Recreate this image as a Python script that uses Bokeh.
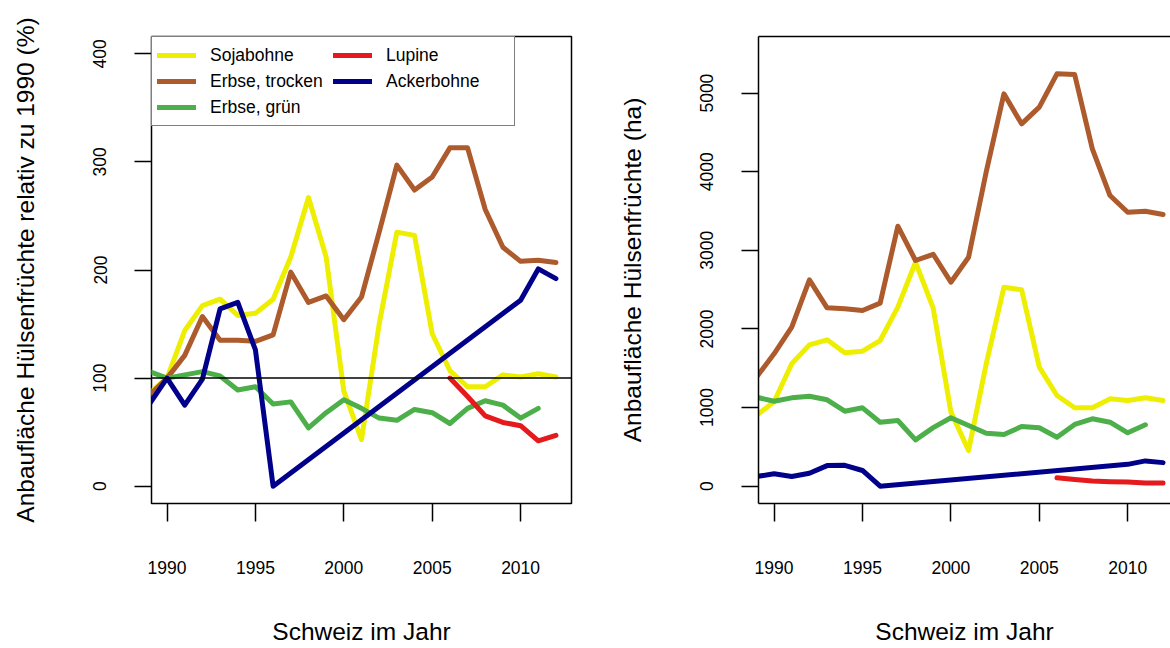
from bokeh.plotting import figure
from bokeh.models import Span, Legend, LegendItem, FixedTicker, Range1d, LinearAxis
from bokeh.layouts import row
from bokeh.embed import file_html
from bokeh.resources import INLINE

# ---------------- data ----------------
years = list(range(1989, 2013))
years_gruen = list(range(1989, 2012))
years_lupine = list(range(2006, 2013))
years_acker = [1989, 1990, 1991, 1992, 1993, 1994, 1995, 1996, 2010, 2011, 2012]

x_ticks = [1990, 1995, 2000, 2005, 2010]
y_ticks_pct = [0, 100, 200, 300, 400]
y_ticks_ha = [0, 1000, 2000, 3000, 4000, 5000]

series_names = ["Sojabohne", "Erbse, trocken", "Erbse, grün", "Lupine", "Ackerbohne"]

# relative to 1990 (%)
soja_pct = [86, 100, 144, 167, 173, 158, 160, 173, 212, 267, 212, 88, 43, 150,
            235, 232, 141, 107, 92, 92, 103, 101, 104, 101]
trocken_pct = [84, 100, 121, 157, 135, 135, 134, 140, 198, 170, 176, 154, 175, 235,
               297, 274, 286, 313, 313, 256, 221, 208, 209, 207]
gruen_pct = [106, 100, 103, 106, 102, 89, 92, 76, 78, 54, 68, 80, 72, 63,
             61, 71, 68, 58, 72, 79, 75, 63, 72]
lupine_pct = [100, 83, 65, 59, 56, 42, 47]
acker_pct = [76, 100, 75, 99, 164, 170, 126, 0, 172, 201, 192]

# area (ha)
soja_ha = [900, 1075, 1557, 1798, 1862, 1697, 1717, 1853, 2277, 2849, 2265, 945, 454, 1557,
           2531, 2498, 1514, 1154, 997, 997, 1111, 1090, 1124, 1090]
trocken_ha = [1386, 1684, 2022, 2625, 2269, 2256, 2235, 2328, 3307, 2871, 2950, 2595, 2913, 4000,
              4991, 4609, 4821, 5245, 5237, 4291, 3697, 3485, 3498, 3456]
gruen_ha = [1132, 1081, 1124, 1145, 1099, 954, 997, 814, 836, 590, 745, 870, 772, 674,
            658, 759, 743, 623, 785, 857, 814, 679, 781]
lupine_ha = [107, 86, 66, 58, 54, 40, 41]
acker_ha = [123, 158, 123, 165, 262, 265, 200, 0, 278, 322, 300]

colors = ["#EEEE00", "#AD5A2C", "#4DAF4A", "#E41A1C", "#00008B"]

FONT = "Liberation Sans"


def make_fig(width, border_left, border_right, y_start, y_end, yticks, ylabel, x_end):
    p = figure(width=width, height=648,
               x_range=Range1d(1989.12, x_end), y_range=Range1d(y_start, y_end),
               output_backend="svg", toolbar_location=None,
               min_border_left=border_left, min_border_right=border_right,
               min_border_top=36, min_border_bottom=145)
    p.grid.grid_line_color = None
    p.background_fill_color = "white"
    p.border_fill_color = "white"
    p.outline_line_color = "black"
    p.outline_line_width = 1.5

    p.xaxis.ticker = FixedTicker(ticks=x_ticks)
    p.yaxis.ticker = FixedTicker(ticks=yticks)
    for ax in (p.xaxis, p.yaxis):
        ax.axis_line_color = None
        ax.major_tick_line_color = "black"
        ax.major_tick_line_width = 1.5
        ax.major_tick_in = 0
        ax.minor_tick_line_color = None
        ax.major_label_text_font = FONT
        ax.major_label_text_font_size = "17.5px"
        ax.major_label_text_color = "black"
        ax.axis_label_text_font = FONT
        ax.axis_label_text_font_size = "24.5px"
        ax.axis_label_text_font_style = "normal"
        ax.axis_label_text_color = "black"
    p.xaxis.major_tick_out = 18
    p.yaxis.major_tick_out = 17
    p.xaxis.major_label_standoff = 39
    p.xaxis.axis_label_standoff = 41
    p.yaxis.major_label_standoff = 28
    p.yaxis.axis_label_standoff = 52
    p.yaxis.major_label_orientation = "vertical"
    p.xaxis.axis_label = "Schweiz im Jahr"
    p.yaxis.axis_label = ylabel
    return p


def add_lines(p, data):
    rs = []
    for (xs, ys), c in zip(data, colors):
        r = p.line(xs, ys, line_color=c, line_width=5,
                   line_join="round", line_cap="round")
        rs.append(r)
    return rs


# ---------------- left panel ----------------
p1 = make_fig(608, 151, 37, -16, 416, y_ticks_pct,
              "Anbaufläche Hülsenfrüchte relativ zu 1990 (%)", 2012.88)
rs1 = add_lines(p1, [(years, soja_pct), (years, trocken_pct), (years_gruen, gruen_pct),
                     (years_lupine, lupine_pct), (years_acker, acker_pct)])
p1.add_layout(Span(location=100, dimension="width", line_color="black", line_width=1.5))

legend = Legend(items=[LegendItem(label=n, renderers=[r]) for n, r in zip(series_names, rs1)],
                location="top_left", orientation="vertical", nrows=3,
                margin=0, padding=5, spacing=0,
                glyph_width=39, glyph_height=26, label_height=26, label_standoff=14,
                label_width=123,
                label_text_font=FONT, label_text_font_size="17.5px",
                label_text_color="black",
                border_line_color="black", border_line_width=1.5,
                background_fill_color="white", background_fill_alpha=1.0)
p1.add_layout(legend)

# ---------------- right panel ----------------
p2 = make_fig(562, 150, 0, -220, 5720, y_ticks_ha,
              "Anbaufläche Hülsenfrüchte (ha)", 2012.42)
add_lines(p2, [(years, soja_ha), (years, trocken_ha), (years_gruen, gruen_ha),
               (years_lupine, lupine_ha), (years_acker, acker_ha)])
# box is cut off at the right edge: draw left/bottom/top borders only
p2.outline_line_color = None
p2.xaxis.axis_line_color = "black"
p2.xaxis.axis_line_width = 1.5
p2.yaxis.axis_line_color = "black"
p2.yaxis.axis_line_width = 1.5
top_axis = LinearAxis(ticker=FixedTicker(ticks=[]), axis_line_color="black",
                      axis_line_width=1.5, major_tick_line_color=None,
                      minor_tick_line_color=None, major_label_text_font_size="0px")
p2.add_layout(top_axis, "above")

layout = row(p1, p2)
open("out.html", "w").write(file_html(layout, INLINE))
